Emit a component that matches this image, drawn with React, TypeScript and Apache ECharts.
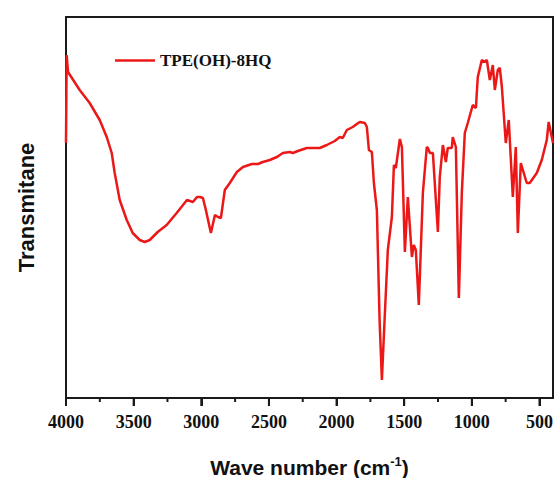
import React, { useEffect, useRef } from "react";
import * as echarts from "echarts";

const wavenumbers = [
  4000, 3995, 3985, 3899, 3825, 3751, 3699, 3662, 3640, 3603, 3551, 3507, 3455, 3418, 3381, 3322,
  3256, 3182, 3106, 3062, 3032, 3010, 2988, 2966, 2929, 2899, 2877, 2855, 2826, 2789, 2737, 2692,
  2626, 2581, 2545, 2493, 2441, 2397, 2345, 2323, 2286, 2220, 2124, 2072, 2013, 1976, 1954, 1924,
  1880, 1850, 1828, 1791, 1776, 1761, 1739, 1724, 1702, 1682, 1665, 1645, 1621, 1591, 1576, 1562,
  1532, 1517, 1495, 1473, 1443, 1429, 1414, 1392, 1362, 1333, 1325, 1310, 1288, 1251, 1237, 1214,
  1192, 1178, 1148, 1141, 1118, 1096, 1074, 1052, 1030, 993, 970, 956, 926, 904, 889, 867,
  845, 830, 808, 793, 778, 749, 727, 697, 675, 660, 638, 594, 572, 520, 483, 446,
  432, 400,
];

const transmittance = [
  255, 343, 326, 308, 295, 278, 261, 245, 225, 198, 178, 165, 158, 156, 158, 166,
  173, 185, 198, 196, 201, 201, 200, 188, 165, 183, 181, 180, 208, 215, 226, 231,
  234, 234, 236, 238, 241, 245, 246, 245, 247, 250, 250, 253, 257, 261, 260, 268,
  271, 274, 276, 275, 271, 248, 246, 215, 188, 78, 18, 78, 148, 181, 233, 230,
  259, 251, 146, 201, 141, 153, 148, 93, 205, 251, 250, 245, 245, 166, 221, 253,
  236, 250, 250, 261, 251, 100, 205, 265, 275, 293, 290, 321, 338, 336, 338, 318,
  333, 308, 328, 330, 311, 255, 278, 201, 251, 165, 235, 215, 215, 225, 238, 258,
  276, 255,
];

// tick labels (wavenumber, cm-1), every 500 from 4000 down to 500
const tickLabels = [4000, 3500, 3000, 2500, 2000, 1500, 1000, 500];
const minorTickValues = [3750, 3250, 2750, 2250, 1750, 1250, 750];

const seriesName = "TPE(OH)-8HQ";
const xName = "Wave number (cm{sup|-1})";
const yName = "Transmitane";

export default function App() {
  const ref = useRef<HTMLDivElement>(null);

  useEffect(() => {
    if (!ref.current) return;
    const chart = echarts.init(ref.current, null, { renderer: "svg" });
    const axisColor = "#1a1a1a";
    const red = "#ec1818";
    // x is plotted as -wavenumber so that 4000 sits on the left
    const data = wavenumbers.map((w, i) => [-w, transmittance[i]]);
    const xMin = -tickLabels[0];
    const tickSeries = (name: string, values: number[], len: number) => ({
      name,
      type: "scatter",
      clip: false,
      silent: true,
      data: values.map((v) => [-v, 0]),
      symbol: "rect",
      symbolSize: [2, len],
      symbolOffset: [0, len / 2],
      itemStyle: { color: axisColor, opacity: 1 },
      z: 5,
    });
    chart.setOption({
      animation: false,
      backgroundColor: "#ffffff",
      grid: {
        left: 66,
        right: 5,
        top: 17,
        bottom: 80,
        outerBoundsMode: "none",
        containLabel: false,
        show: true,
        borderColor: axisColor,
        borderWidth: 2,
        backgroundColor: "transparent",
      },
      legend: {
        left: 110,
        top: 47,
        icon: "rect",
        itemWidth: 40,
        itemHeight: 2.5,
        data: [seriesName],
        textStyle: {
          fontFamily: "Liberation Serif",
          fontWeight: "bold",
          fontSize: 17,
          color: "#111",
        },
      },
      xAxis: {
        type: "value",
        position: "bottom",
        min: xMin,
        max: -400,
        interval: 500,
        name: xName,
        nameLocation: "middle",
        nameGap: 57,
        nameTextStyle: {
          fontFamily: "Liberation Sans",
          fontWeight: "bold",
          fontSize: 21,
          color: "#111",
          rich: {
            sup: {
              fontFamily: "Liberation Sans",
              fontWeight: "bold",
              fontSize: 13,
              color: "#111",
              padding: [0, 0, 12, 0],
            },
          },
        },
        axisLine: { show: true, onZero: false, lineStyle: { color: axisColor, width: 2 } },
        axisTick: { show: true, inside: false, length: 8, lineStyle: { color: axisColor, width: 2 } },
        axisLabel: {
          margin: 15,
          showMaxLabel: false,
          formatter: (v: number) => String(Math.abs(v)),
          fontFamily: "Liberation Serif",
          fontWeight: "bold",
          fontSize: 18,
          color: "#111",
        },
        splitLine: { show: false },
      },
      yAxis: {
        type: "value",
        min: 0,
        max: 381,
        name: yName,
        nameLocation: "middle",
        nameGap: 29,
        nameTextStyle: {
          fontFamily: "Liberation Sans",
          fontWeight: "bold",
          fontSize: 22,
          color: "#111",
        },
        axisLine: { show: true, lineStyle: { color: axisColor, width: 2 } },
        axisTick: { show: false },
        axisLabel: { show: false },
        splitLine: { show: false },
      },
      series: [
        {
          name: seriesName,
          type: "line",
          data,
          symbol: "none",
          showSymbol: false,
          lineStyle: { color: red, width: 2.5 },
          itemStyle: { color: red },
          z: 3,
        },
        tickSeries("major ticks", tickLabels, 8),
        tickSeries("minor ticks", minorTickValues, 4),
      ],
    });
    return () => chart.dispose();
  }, []);

  return (
    <div
      ref={ref}
      style={{ position: "absolute", left: 0, top: 0, width: 558, height: 478, background: "#fff" }}
    />
  );
}
